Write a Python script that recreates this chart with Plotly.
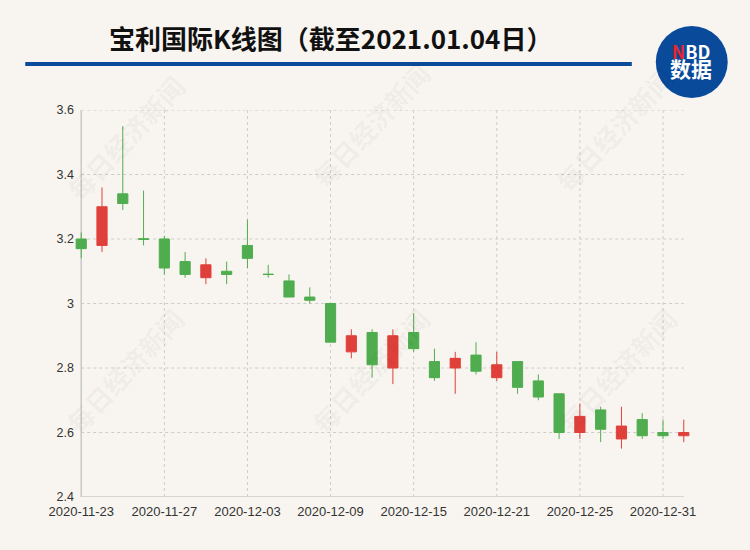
import plotly.graph_objects as go

# ---------------- data ----------------
dates = ["2020-11-23", "2020-11-24", "2020-11-25", "2020-11-26", "2020-11-27",
         "2020-11-30", "2020-12-01", "2020-12-02", "2020-12-03", "2020-12-04",
         "2020-12-07", "2020-12-08", "2020-12-09", "2020-12-10", "2020-12-11",
         "2020-12-14", "2020-12-15", "2020-12-16", "2020-12-17", "2020-12-18",
         "2020-12-21", "2020-12-22", "2020-12-23", "2020-12-24", "2020-12-25",
         "2020-12-28", "2020-12-29", "2020-12-30", "2020-12-31", "2021-01-04"]
open_ = [3.20, 3.18, 3.34, 3.201, 3.20, 3.13, 3.08, 3.10, 3.18, 3.091,
         3.07, 3.02, 3.00, 2.85, 2.91, 2.80, 2.91, 2.82, 2.80, 2.84,
         2.77, 2.82, 2.76, 2.72, 2.60, 2.67, 2.58, 2.64, 2.60, 2.59]
high = [3.22, 3.36, 3.55, 3.35, 3.21, 3.16, 3.14, 3.13, 3.26, 3.12,
        3.09, 3.05, 3.00, 2.92, 2.92, 2.92, 2.97, 2.86, 2.85, 2.88,
        2.85, 2.82, 2.78, 2.72, 2.69, 2.68, 2.68, 2.66, 2.64, 2.64]
low = [3.14, 3.16, 3.29, 3.18, 3.09, 3.08, 3.06, 3.06, 3.11, 3.08,
       3.02, 3.00, 2.88, 2.83, 2.77, 2.75, 2.85, 2.76, 2.72, 2.78,
       2.76, 2.72, 2.70, 2.58, 2.58, 2.57, 2.55, 2.58, 2.58, 2.57]
close = [3.17, 3.30, 3.31, 3.199, 3.11, 3.09, 3.12, 3.09, 3.14, 3.09,
         3.02, 3.01, 2.88, 2.90, 2.81, 2.90, 2.86, 2.77, 2.83, 2.79,
         2.81, 2.74, 2.71, 2.60, 2.65, 2.61, 2.62, 2.59, 2.59, 2.60]

x_tick_labels = ["2020-11-23", "2020-11-27", "2020-12-03", "2020-12-09",
                 "2020-12-15", "2020-12-21", "2020-12-25", "2020-12-31"]
y_tick_vals = [2.4, 2.6, 2.8, 3.0, 3.2, 3.4, 3.6]
y_tick_text = ["2.4", "2.6", "2.8", "3", "3.2", "3.4", "3.6"]

title_text = "宝利国际K线图（截至2021.01.04日）"
watermark = "每日经济新闻"

# ---------------- layout geometry (pixels) ----------------
W_PX, H_PX = 750, 550
X_RANGE = [-0.3, len(dates) - 1 + 0.3]
FIRST_X, LAST_X = 81.0, 684.0
unit = (LAST_X - FIRST_X) / (len(dates) - 1)
L = FIRST_X - 0.3 * unit
PW = (X_RANGE[1] - X_RANGE[0]) * unit
R = W_PX - L - PW
T = 110.0
B = 53.0
PH = H_PX - T - B


def px(x):
    return (x - L) / PW


def py(y):
    return (H_PX - B - y) / PH


BG = "#f8f5f0"
RED = "#e0403a"
GREEN = "#50ad4f"
BLUE = "#0a4a9b"
GRID = "#cccccc"

fig = go.Figure()
fig.add_trace(go.Candlestick(
    x=dates, open=open_, high=high, low=low, close=close,
    increasing=dict(line=dict(color=RED, width=1), fillcolor=RED),
    decreasing=dict(line=dict(color=GREEN, width=1), fillcolor=GREEN),
    whiskerwidth=0, hoverinfo="skip", showlegend=False,
))

shapes = []
# horizontal dashed gridlines (from first to last category)
for v in y_tick_vals[1:]:
    shapes.append(dict(type="line", xref="x", yref="y", x0=dates[0], x1=dates[-1],
                       y0=v, y1=v, layer="below",
                       line=dict(color=GRID, width=1, dash="3px,3px")))
# vertical dashed gridlines
for d in x_tick_labels[1:]:
    shapes.append(dict(type="line", xref="x", yref="y", x0=d, x1=d,
                       y0=y_tick_vals[0], y1=y_tick_vals[-1], layer="below",
                       line=dict(color=GRID, width=1, dash="3px,3px")))
# axis lines
shapes.append(dict(type="line", xref="x", yref="y", x0=dates[0], x1=dates[0],
                   y0=y_tick_vals[0], y1=y_tick_vals[-1], layer="below",
                   line=dict(color="#c8c8c8", width=1.5)))
shapes.append(dict(type="line", xref="x", yref="y", x0=dates[0], x1=dates[-1],
                   y0=y_tick_vals[0], y1=y_tick_vals[0], layer="below",
                   line=dict(color="#c8c8c8", width=1.5)))
# blue rule under the title
shapes.append(dict(type="line", xref="paper", yref="paper",
                   x0=px(25), x1=px(632), y0=py(64), y1=py(64),
                   line=dict(color=BLUE, width=4)))
# logo circle
shapes.append(dict(type="circle", xref="paper", yref="paper",
                   x0=px(656), x1=px(728), y0=py(98), y1=py(26),
                   fillcolor=BLUE, line=dict(width=0)))

annotations = []
# watermarks
for (wx, wy) in [(125, 137), (371, 125), (614, 129),
                 (124, 370), (370, 370), (617, 370)]:
    annotations.append(dict(xref="paper", yref="paper", x=px(wx), y=py(wy),
                            text=watermark, showarrow=False, textangle=-47,
                            font=dict(family="Noto Sans CJK SC", size=26,
                                      color="rgba(0,0,0,0.055)", weight="bold"),
                            xanchor="center", yanchor="middle"))
# title
annotations.append(dict(xref="paper", yref="paper", x=px(330), y=py(38),
                        text="<b>" + title_text + "</b>", showarrow=False,
                        font=dict(family="Noto Sans CJK SC", size=26, color="#111111"),
                        xanchor="center", yanchor="middle"))
# logo text (two lines in one annotation)
annotations.append(dict(xref="paper", yref="paper", x=px(691), y=py(61),
                        text=("<b><span style='font-size:18px;color:#e8262d'>N</span>"
                              "<span style='font-size:18px'>BD</span><br>"
                              "<span style='font-size:21px'>数据</span></b>"),
                        showarrow=False,
                        font=dict(family="Noto Sans CJK SC", size=14, color="white"),
                        xanchor="center", yanchor="middle"))

fig.update_layout(
    width=W_PX, height=H_PX,
    margin=dict(l=L, r=R, t=T, b=B, pad=0),
    paper_bgcolor=BG, plot_bgcolor=BG,
    shapes=shapes, annotations=annotations,
    showlegend=False,
    hovermode=False,
    xaxis=dict(type="category", range=X_RANGE, rangeslider=dict(visible=False),
               tickmode="array", tickvals=x_tick_labels, ticktext=x_tick_labels,
               showgrid=False, zeroline=False, showline=False,
               ticks="outside", ticklen=2, tickcolor="rgba(0,0,0,0)",
               tickfont=dict(family="Liberation Sans", size=13, color="#333333")),
    yaxis=dict(range=[y_tick_vals[0], y_tick_vals[-1]], tickmode="array",
               tickvals=y_tick_vals, ticktext=y_tick_text,
               showgrid=False, zeroline=False, showline=False,
               ticks="",
               tickfont=dict(family="Liberation Sans", size=12.5, color="#333333")),
)

fig.write_html(
    "out.html",
    config={"displayModeBar": False},
    post_script="document.body.style.margin='0';document.body.style.background='#f8f5f0';",
)
